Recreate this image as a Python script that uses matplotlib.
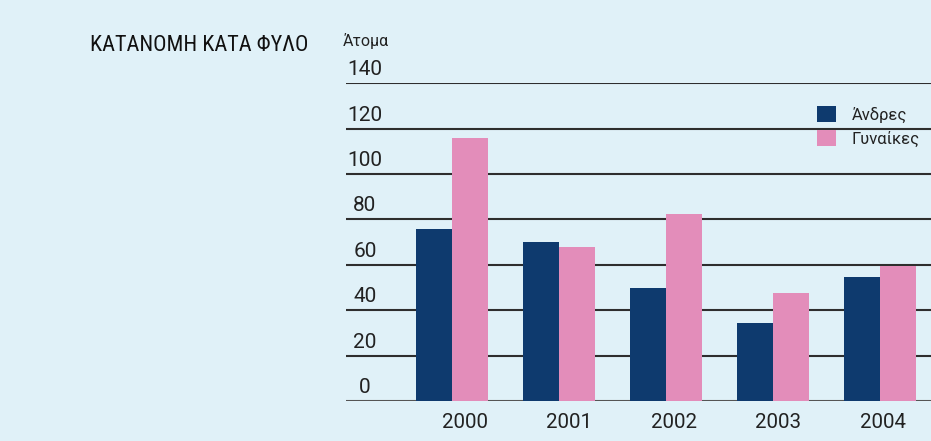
import matplotlib
matplotlib.use("Agg")
import matplotlib.pyplot as plt
import matplotlib.transforms as mtransforms
from matplotlib import font_manager
import numpy as np

years = ["2000", "2001", "2002", "2003", "2004"]
men = [76, 70, 50, 34.5, 54.5]
women = [116, 68, 82.5, 47.5, 59.5]
series_labels = ["Άνδρες", "Γυναίκες"]
yticks = [0, 20, 40, 60, 80, 100, 120, 140]
title = "ΚΑΤΑΝΟΜΗ ΚΑΤΑ ΦΥΛΟ"
unit_label = "Άτομα"

BG = "#E0F1F8"
MEN_C = "#0E3A6E"
WOMEN_C = "#E38DBA"
TXT = "#222222"

names = {f.name for f in font_manager.fontManager.ttflist}
base = "Roboto" if "Roboto" in names else "DejaVu Sans"
cond = None
for cand in ["Roboto Condensed", "Liberation Sans Narrow", "DejaVu Sans Condensed"]:
    if cand in names:
        cond = cand
        break
plt.rcParams["font.family"] = [base, "DejaVu Sans"]

W, H = 931, 441
fig = plt.figure(figsize=(W / 100, H / 100), dpi=100, facecolor=BG)
ax = fig.add_axes([346 / W, 40 / H, 1 - 346 / W, (401 - 83.3) / H])
ax.set_facecolor(BG)

x = np.arange(len(years))
bw = 36 / 107
ax.bar(x - bw / 2, men, width=bw, color=MEN_C, zorder=3, label=series_labels[0])
ax.bar(x + bw / 2, women, width=bw, color=WOMEN_C, zorder=3, label=series_labels[1])

ax.set_xlim(-106 / 107, (931 - 452) / 107)
ax.set_ylim(0, 140)
for s in ax.spines.values():
    s.set_visible(False)

ax.set_yticks(yticks)
ax.set_yticklabels([])
ax.tick_params(axis="y", length=0)
for v in yticks:
    ax.axhline(v, color="#2e2e2e" if v else "#555555", lw=1.5, zorder=2)

trans = mtransforms.blended_transform_factory(ax.transAxes, ax.transData)
off = mtransforms.offset_copy(trans, fig=fig, x=0, y=8, units="dots")
for v in yticks:
    ax.text(19 / 585, v, str(v), transform=off, ha="center", va="baseline",
            fontsize=15, color=TXT)

ax.set_xticks(0.117 + 0.977 * x)
ax.set_xticklabels(years, fontsize=14.8, color=TXT)
ax.tick_params(axis="x", length=0, pad=8.5)

leg = ax.legend(loc="upper left", bbox_to_anchor=(817 / W, 1 - 106 / H),
                bbox_transform=fig.transFigure, frameon=False, fontsize=12,
                handlelength=1.14, handleheight=1.14, handletextpad=0.95,
                labelspacing=0.42, borderpad=0, borderaxespad=0)
for t in leg.get_texts():
    t.set_color(TXT)

fig.text(343 / W, 1 - 46 / H, unit_label, fontsize=11.5, color=TXT,
         ha="left", va="baseline")
tkw = dict(fontsize=16, color="#111111", ha="left", va="baseline")
if cond:
    tkw["family"] = [cond, "DejaVu Sans"]
else:
    tkw["fontstretch"] = "condensed"
fig.text(90 / W, 1 - 51 / H, title, **tkw)

fig.savefig("out.png", dpi=100, facecolor=BG)
